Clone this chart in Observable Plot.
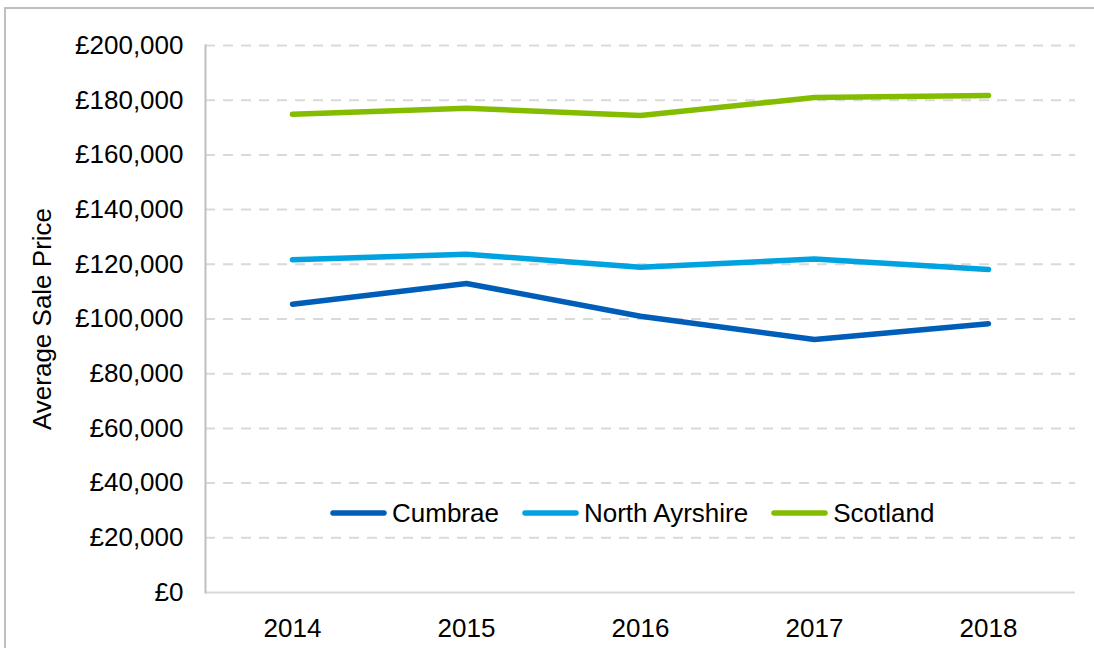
<!DOCTYPE html>
<html>
<head>
<meta charset="utf-8">
<script src="https://cdn.jsdelivr.net/npm/d3@7"></script>
<script src="https://cdn.jsdelivr.net/npm/@observablehq/plot@0.6"></script>
<style>
  html, body { margin: 0; padding: 0; background: #fff; overflow: hidden; }
  body { width: 1094px; height: 648px; position: relative; font-family: "Liberation Sans", Arial, sans-serif; }
  #frame { position: absolute; left: 4px; top: 7px; width: 1110px; height: 680px; border: 2px solid #bfbfbf; box-sizing: border-box; }
  #chart { position: absolute; left: 0; top: 0; }
  #legend { position: absolute; left: 330px; top: 498px; height: 30px; display: flex; align-items: center; font-size: 26px; color: #000; }
  .item { display: flex; align-items: center; margin-right: 23px; }
  .item svg { margin-right: 5px; }
</style>
</head>
<body>
<div id="frame"></div>
<div id="chart"></div>
<div id="legend"></div>
<script>
const years = [2014, 2015, 2016, 2017, 2018];
const seriesNames = ["Cumbrae", "North Ayrshire", "Scotland"];
const seriesColors = ["#005EB8", "#00A3E0", "#84BD00"];
const cumbrae = [105400, 113000, 101000, 92500, 98300];
const northAyrshire = [121700, 123700, 118900, 121900, 118100];
const scotland = [174900, 177100, 174400, 181000, 181700];
const yTicks = [0, 20000, 40000, 60000, 80000, 100000, 120000, 140000, 160000, 180000, 200000];
const yLabel = "Average Sale Price";

const seriesValues = [cumbrae, northAyrshire, scotland];
const data = [];
seriesNames.forEach((name, s) => years.forEach((yr, i) => data.push({series: name, year: yr, value: seriesValues[s][i]})));

const fmt = d => "£" + d3.format(",")(d);

const chart = Plot.plot({
  width: 1094,
  height: 648,
  marginLeft: 205,
  marginRight: 19,
  marginTop: 45,
  marginBottom: 56,
  style: {fontFamily: "'Liberation Sans', Arial, sans-serif", fontSize: "26px", color: "#000", background: "transparent", overflow: "visible"},
  x: {type: "point", domain: years, padding: 0.5, label: null},
  y: {domain: [0, 200000], label: null},
  color: {domain: seriesNames, range: seriesColors},
  marks: [
    Plot.gridY(yTicks.filter(d => d > 0), {stroke: "#d9d9d9", strokeOpacity: 1, strokeWidth: 2, strokeDasharray: "10,8"}),
    Plot.ruleY([0], {stroke: "#d9d9d9", strokeWidth: 2}),
    Plot.frame({anchor: "left", stroke: "#bfbfbf", strokeWidth: 2}),
    Plot.axisY(yTicks, {tickSize: 0, tickPadding: 22, tickFormat: fmt, label: null, fontSize: 26}),
    Plot.axisX(years, {tickSize: 0, tickPadding: 26, tickFormat: d => String(d), label: null, fontSize: 26}),
    Plot.text([yLabel], {frameAnchor: "left", textAnchor: "middle", rotate: -90, dx: -163, fontSize: 26, fill: "#000"}),
    Plot.line(data, {x: "year", y: "value", stroke: "series", strokeWidth: 5.5, strokeLinecap: "round", strokeLinejoin: "round"})
  ]
});
document.getElementById("chart").appendChild(chart);

const legend = document.getElementById("legend");
seriesNames.forEach((name, i) => {
  const item = document.createElement("div");
  item.className = "item";
  item.innerHTML = `<svg width="57" height="8"><line x1="3" y1="4" x2="54" y2="4" stroke="${seriesColors[i]}" stroke-width="5.5" stroke-linecap="round"/></svg><span>${name}</span>`;
  legend.appendChild(item);
});
</script>
</body>
</html>
